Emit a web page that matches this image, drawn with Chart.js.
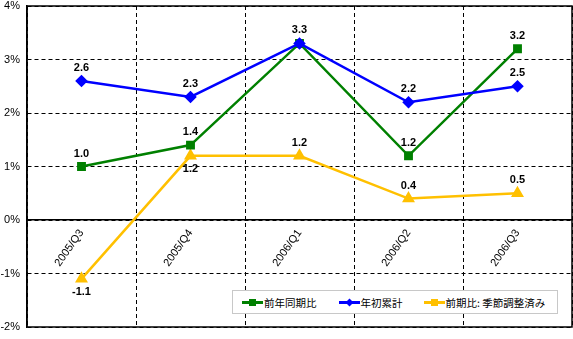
<!DOCTYPE html>
<html>
<head>
<meta charset="utf-8">
<script src="https://cdn.jsdelivr.net/npm/chart.js@4/dist/chart.umd.min.js"></script>
<style>
body { margin: 0; background: #fff; }
#wrap { position: relative; width: 573px; height: 339px; }
#legend {
    position: absolute; left: 232px; top: 290px; width: 326px; height: 24px;
    border: 1px solid #c8c8c8; background: #fff; box-sizing: border-box;
    display: flex; align-items: center; padding-left: 9px; white-space: nowrap;
    font: 10.5px "Noto Sans CJK JP", sans-serif; color: #000;
}
#legend .item { display: flex; align-items: center; flex-shrink: 0; }
#legend .sw { position: relative; width: 21px; height: 3px; margin-right: 1px; }
#legend .mk { position: absolute; left: 7px; top: -2px; width: 7px; height: 7px; }
</style>
</head>
<body>
<div id="wrap">
    <canvas id="c" width="573" height="339"></canvas>
    <div id="legend"></div>
</div>
<script>
const quarters = ['2005/Q3', '2005/Q4', '2006/Q1', '2006/Q2', '2006/Q3'];
const seriesNames = ['前年同期比', '年初累計', '前期比: 季節調整済み'];
const yoy = [1.0, 1.4, 3.3, 1.2, 3.2];        // 前年同期比
const ytd = [2.6, 2.3, 3.3, 2.2, 2.5];        // 年初累計
const qoq = [-1.1, 1.2, 1.2, 0.4, 0.5];       // 前期比: 季節調整済み
const yTicks = [-2, -1, 0, 1, 2, 3, 4];

const colors = ['#008000', '#0000ff', '#ffc000'];

// where each value label sits: 1 = above, -1 = below, 0 = hidden
const labelSide = [
    [1, 1, 1, 1, 1],
    [1, 1, 0, 1, 1],
    [-1, -1, 1, 1, 1]
];

const frame = {
    id: 'frame',
    beforeDatasetsDraw(chart) {
        const a = chart.chartArea, ctx = chart.ctx;
        ctx.save();
        ctx.strokeStyle = '#000';
        ctx.lineWidth = 1.5;
        ctx.strokeRect(a.left, a.top, a.right - a.left, a.bottom - a.top);
        ctx.restore();
    }
};

const valueLabels = {
    id: 'valueLabels',
    afterDatasetsDraw(chart) {
        const ctx = chart.ctx;
        ctx.save();
        ctx.font = 'bold 11px "Liberation Sans", Arial, sans-serif';
        ctx.fillStyle = '#000';
        ctx.textAlign = 'center';
        ctx.textBaseline = 'middle';
        chart.data.datasets.forEach((ds, i) => {
            const meta = chart.getDatasetMeta(i);
            meta.data.forEach((pt, j) => {
                const side = labelSide[i][j];
                if (!side) return;
                ctx.fillText(ds.data[j].toFixed(1), pt.x, pt.y - side * 13);
            });
        });
        ctx.restore();
    }
};

const shapes = ['rect', 'rectRot', 'triangle'];
const radii = [4.5, 4.5, 5];
const allData = [yoy, ytd, qoq];

new Chart(document.getElementById('c'), {
    type: 'line',
    data: {
        labels: quarters,
        datasets: allData.map((d, i) => ({
            label: seriesNames[i],
            data: d,
            borderColor: colors[i],
            backgroundColor: colors[i],
            pointBackgroundColor: colors[i],
            pointBorderColor: colors[i],
            pointStyle: shapes[i],
            pointRadius: radii[i],
            borderWidth: 2.5,
            tension: 0,
            fill: false,
            order: [1, 0, 2][i]
        }))
    },
    options: {
        responsive: false,
        animation: false,
        layout: { autoPadding: false, padding: { top: 6, right: 1, bottom: 12, left: 0 } },
        plugins: { legend: { display: false }, tooltip: { enabled: false } },
        scales: {
            x: {
                position: { y: 0 },
                offset: true,
                afterFit: s => {
                    s.height = 0;
                    s.paddingLeft = 0; s.paddingRight = 0;
                    s.paddingTop = 0; s.paddingBottom = 0;
                },
                grid: { offset: true, color: '#000', lineWidth: 1, drawTicks: false },
                border: { display: true, color: '#000', width: 1.5, dash: [4, 3] },
                ticks: {
                    autoSkip: false, minRotation: 55, maxRotation: 55, padding: 7,
                    color: '#000', font: { family: '"Liberation Sans", Arial', size: 11 }
                }
            },
            y: {
                min: -2, max: 4,
                afterFit: s => {
                    s.width = 27;
                    s.paddingTop = 0; s.paddingBottom = 0;
                },
                afterBuildTicks: s => { s.ticks = yTicks.map(v => ({ value: v })); },
                grid: { color: '#000', lineWidth: 1, drawTicks: false },
                border: { display: true, color: '#000', width: 1.5, dash: [4, 3] },
                ticks: {
                    padding: 7, color: '#000',
                    font: { family: '"Liberation Sans", Arial', size: 11 },
                    callback: v => v + '%'
                }
            }
        }
    },
    plugins: [frame, valueLabels]
});

// legend
const lg = document.getElementById('legend');
const gaps = [22, 21, 0];
seriesNames.forEach((n, i) => {
    const it = document.createElement('div');
    it.className = 'item';
    it.style.marginRight = gaps[i] + 'px';
    const rot = i === 1 ? 'transform:rotate(45deg) scale(0.8);' : '';
    it.innerHTML = `<div class="sw" style="background:${colors[i]}"><div class="mk" style="background:${colors[i]};${rot}"></div></div><span>${n}</span>`;
    lg.appendChild(it);
});
</script>
</body>
</html>
